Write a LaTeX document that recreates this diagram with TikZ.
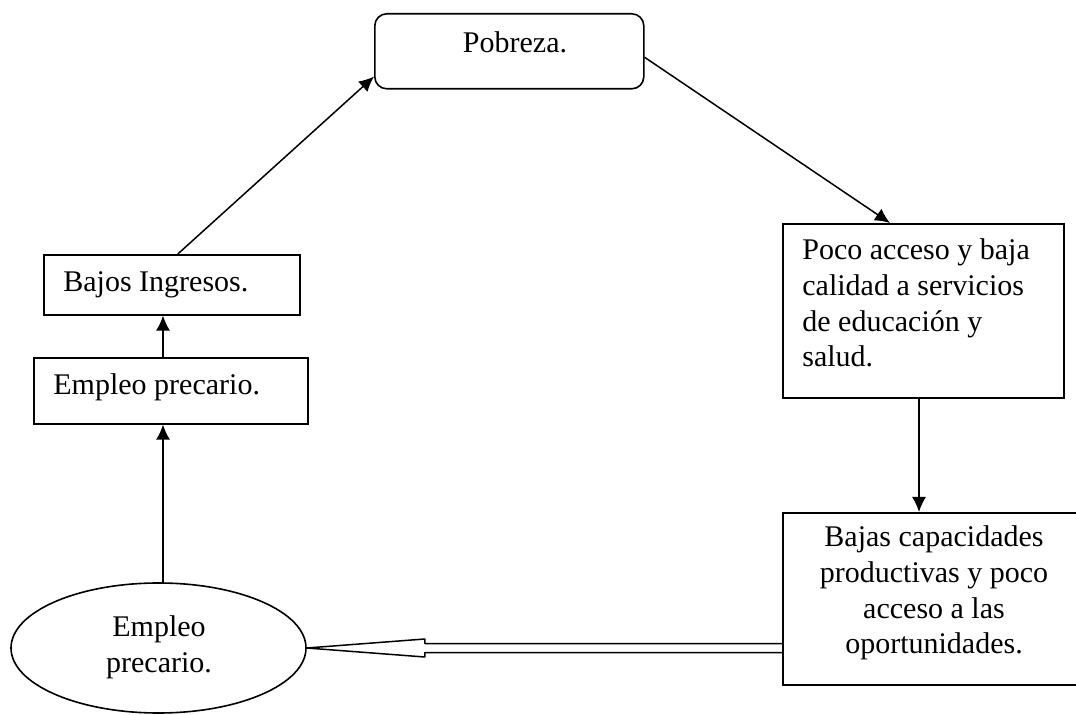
\documentclass[tikz,border=0pt]{standalone}
\usepackage{fontspec}
\setmainfont{Liberation Serif}
\usetikzlibrary{shapes.geometric,arrows.meta,calc}
\begin{document}
\begin{tikzpicture}[x=0.5pt,y=-0.5pt,
  boxst/.style={draw,line width=0.8pt,inner sep=0pt,anchor=north west},
  txt/.style={inner sep=0pt,font=\fontsize{15pt}{17.8pt}\selectfont},
  arr/.style={line width=0.75pt,-{Latex[length=7.5pt,width=7pt]}}]
\useasboundingbox (0,0) rectangle (1076,715);
\clip (0,0) rectangle (1076,715);
% boxes
\node[boxst,rounded corners=6pt,minimum width=134.5pt,minimum height=37.5pt] (pob) at (374,13) {};
\node[boxst,minimum width=140.5pt,minimum height=87pt] (poco) at (782,223) {};
\node[boxst,minimum width=162pt,minimum height=86pt] (bajas) at (782,512) {};
\node[boxst,minimum width=128pt,minimum height=30pt] (bajos) at (43,254) {};
\node[boxst,minimum width=137pt,minimum height=33pt] (emp) at (33,357) {};
\node[draw,ellipse,line width=0.8pt,inner sep=0pt,minimum width=147.5pt,minimum height=65pt] (ell) at (158.5,648) {};
% texts
\node[txt,anchor=base west,text width=125pt,align=flush left] (pocoT) at (802,260) {Poco acceso y baja\\calidad a servicios\\de educación y\\salud.};
\node[txt,anchor=base] (pobT) at (515,53) {Pobreza.};
\node[txt,anchor=base,text width=150pt,align=flush center] (bajasT) at (934,547) {Bajas capacidades\\productivas y poco\\acceso a las\\oportunidades.};
\node[txt,anchor=base west] (bajosT) at (63,292) {Bajos Ingresos.};
\node[txt,anchor=base west] (empT) at (53,395) {Empleo precario.};
\node[txt,anchor=base,text width=100pt,align=flush center] (ellT) at (159,637) {Empleo\\precario.};
% connectors
\coordinate (c1) at (163,0);
\coordinate (c2) at (919,0);
\draw[arr] ($(bajos.north)+(6,0)$) -- ($(pob.south west)+(0,-13)$);
\draw[arr] ($(pob.east)+(0,6)$) -- ($(poco.north west)+(108,0)$);
\draw[arr] (poco.south -| c2) -- (bajas.north -| c2);
\draw[arr] (emp.north -| c1) -- (bajos.south -| c1);
\draw[arr] (ell.north -| c1) -- (emp.south -| c1);
\coordinate (dEnd) at (bajas.west |- ell.east);
\draw[line width=0.75pt,line join=round]
  ($(dEnd)+(0,-4.5)$) -- ($(ell.east)+(118,-4.5)$) -- ($(ell.east)+(118,-9)$)
  -- (ell.east) -- ($(ell.east)+(118,9)$) -- ($(ell.east)+(118,4.5)$)
  -- ($(dEnd)+(0,4.5)$);
\end{tikzpicture}
\end{document}
